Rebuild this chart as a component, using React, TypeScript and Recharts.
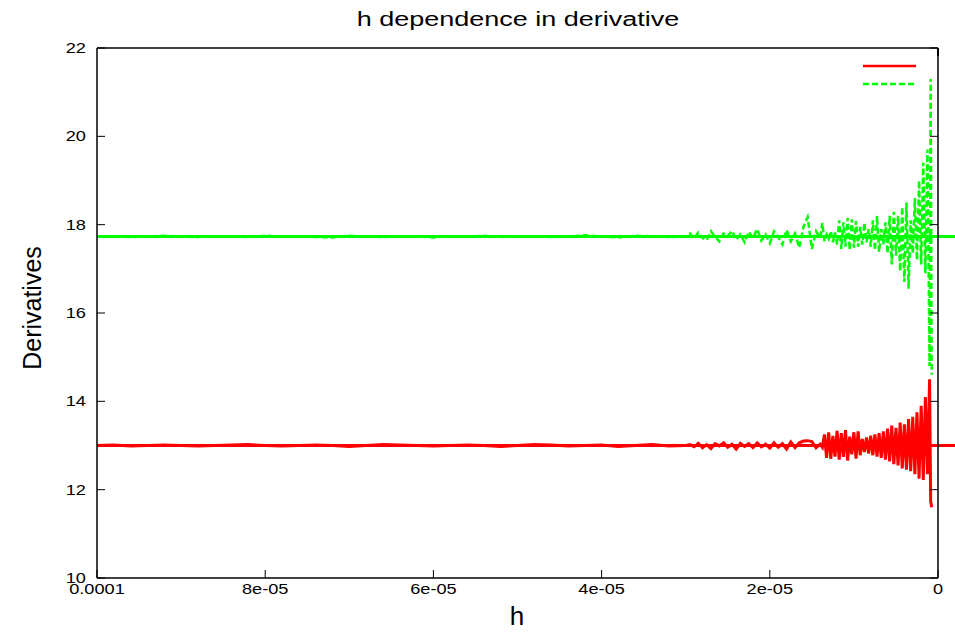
import React from 'react';
import { LineChart, Line, XAxis, YAxis, ReferenceLine, Legend } from 'recharts';

// step h, in units of 1e-6
const hMicro = [
  100, 98, 96, 94, 92, 90, 88, 86, 84, 82, 80, 78, 76, 74, 72, 70, 68, 66, 64, 62,
  60, 58, 56, 54, 52, 50, 48, 46, 44, 42, 40, 38, 36, 34, 32,
  30, 29.5, 29, 28.5, 28, 27.5, 27, 26.5, 26, 25.5, 25, 24.5, 24, 23.5, 23, 22.5,
  22, 21.5, 21, 20.5, 20, 19.5, 19, 18.5, 18, 17.5, 17, 16.5, 16, 15.5, 15, 14.5,
  14, 13.75, 13.5, 13.25, 13, 12.75, 12.5, 12.25, 12, 11.75, 11.5, 11.25, 11, 10.75,
  10.5, 10.25, 10, 9.75, 9.5, 9.25, 9, 8.75, 8.5, 8.25, 8, 7.75, 7.5, 7.25, 7, 6.75,
  6.5, 6.25, 6, 5.75, 5.5, 5.25, 5, 4.75, 4.5, 4.25, 4, 3.75, 3.5, 3.25, 3, 2.75,
  2.5, 2.25, 2, 1.75, 1.5, 1.25, 1, 0.875, 0.75,
];

// numerical derivative, first function (red)
const redValues = [
  13.00, 13.01, 12.99, 13.00, 13.01, 13.00, 12.99, 13.00, 13.01, 13.02,
  13.00, 12.99, 13.00, 13.01, 13.00, 12.98, 13.00, 13.02, 13.01, 13.00,
  12.99, 13.00, 13.01, 13.00, 12.98, 13.00, 13.02, 13.01, 12.99, 13.00,
  13.01, 12.98, 13.00, 13.02, 12.99,
  13.00, 13.02, 12.97, 13.05, 12.95, 13.02, 12.93, 13.04, 12.99, 13.06,
  12.96, 13.03, 12.92, 13.05, 12.98, 13.04, 12.95, 13.06, 12.97, 13.03,
  12.94, 13.06, 12.96, 13.04, 12.92, 13.08, 12.95, 13.06, 13.10, 13.11,
  13.09, 12.95,
  13.03, 12.96, 13.25, 12.72, 13.30, 12.70, 13.22, 12.75, 13.33, 12.68,
  13.28, 12.74, 13.35, 12.66, 13.20, 12.80, 13.30, 12.70, 13.32, 12.78,
  13.15, 12.85, 13.18, 12.82, 13.22, 12.78, 13.25, 12.75, 13.28, 12.72,
  13.32, 12.68, 13.38, 12.64, 13.45, 12.58, 13.40, 12.55, 13.52, 12.48,
  13.48, 12.45, 13.60, 12.42, 13.65, 12.35, 13.75, 12.25, 13.90, 12.22,
  14.10, 12.35, 14.50, 11.75, 11.60,
];

// numerical derivative, second function (green)
const greenValues = [
  17.73, 17.74, 17.72, 17.73, 17.75, 17.73, 17.72, 17.74, 17.73, 17.72,
  17.75, 17.73, 17.74, 17.72, 17.71, 17.75, 17.73, 17.72, 17.74, 17.73,
  17.71, 17.74, 17.73, 17.75, 17.72, 17.73, 17.74, 17.72, 17.73, 17.76,
  17.73, 17.71, 17.75, 17.74, 17.72,
  17.73, 17.80, 17.68, 17.82, 17.70, 17.65, 17.85, 17.72, 17.62, 17.80,
  17.74, 17.86, 17.66, 17.78, 17.60, 17.84, 17.70, 17.90, 17.64, 17.78,
  17.58, 17.85, 17.72, 17.55, 17.88, 17.62, 17.80, 17.48, 17.95, 18.17,
  17.45, 17.85,
  17.70, 18.04, 17.62, 17.78, 17.68, 17.85, 17.60, 17.82, 17.55, 18.10,
  17.45, 18.05, 17.50, 18.15, 17.43, 18.12, 17.48, 18.08, 17.50, 17.95,
  17.55, 18.04, 17.60, 17.90, 17.50, 18.10, 17.42, 18.20, 17.38, 17.90,
  17.55, 18.05, 17.35, 18.20, 17.10, 18.29, 17.30, 18.20, 16.95, 18.40,
  16.70, 18.50, 16.55, 18.10, 17.35, 18.60, 17.20, 19.00, 17.10, 19.40,
  16.90, 19.70, 14.80, 21.30, 14.60,
];

// exact derivatives
const exactRed = 13.0;
const exactGreen = 17.73;
const exactFromH = 0.0001;
const exactToH = -0.0000021;

const xTicks = [0.0001, 0.00008, 0.00006, 0.00004, 0.00002, 0];
const xTickLabels = ['0.0001', '8e-05', '6e-05', '4e-05', '2e-05', '0'];
const yTicks = [10, 12, 14, 16, 18, 20, 22];

const FONT = '"Liberation Sans", Arial, Helvetica, sans-serif';
const RED = '#ff0000';
const GREEN = '#00ff00';
const legendOrder = ['red', 'green'];
const dashes: { [k: string]: string | undefined } = { red: undefined, green: '6 3' };

const data = hMicro.map((h, i) => ({ h: h * 1e-6, red: redValues[i], green: greenValues[i] }));

// gnuplot style: tick marks point into the plot
function BottomTick(props: any) {
  const { x, y, payload } = props;
  const i = xTicks.findIndex(t => Math.abs(t - payload.value) < 1e-12);
  return (
    <g transform={`translate(${x},${y})`}>
      <line x1={0} y1={0} x2={0} y2={-8} stroke="#000" />
      <text y={6} textAnchor="middle" dy="0.71em" fontSize={14} fontFamily={FONT} fill="#000" transform="scale(1.3,1)">
        {xTickLabels[i]}
      </text>
    </g>
  );
}

function LeftTick(props: any) {
  const { x, y, payload } = props;
  return (
    <g transform={`translate(${x},${y})`}>
      <line x1={0} y1={0} x2={8} y2={0} stroke="#000" />
      <text x={-8.5} textAnchor="end" dy="0.355em" fontSize={14} fontFamily={FONT} fill="#000" transform="scale(1.3,1)">
        {payload.value}
      </text>
    </g>
  );
}

function TopTick(props: any) {
  const { x, y } = props;
  return <line x1={x} y1={y} x2={x} y2={y + 8} stroke="#000" />;
}

function RightTick(props: any) {
  const { x, y } = props;
  return <line x1={x} y1={y} x2={x - 8} y2={y} stroke="#000" />;
}

const renderLegend = (props: any) => {
  const payload = [...(props.payload || [])].sort(
    (a: any, b: any) => legendOrder.indexOf(a.dataKey) - legendOrder.indexOf(b.dataKey));
  return (
    <div>
      {payload.map((entry: any) => (
        <svg key={entry.dataKey} width={56} height={18} style={{ display: 'block' }}>
          <line x1={3} y1={9} x2={56} y2={9} stroke={entry.color} strokeWidth={2.5}
            strokeDasharray={dashes[entry.dataKey]} />
        </svg>
      ))}
    </div>
  );
};

export default function App() {
  return (
    <div style={{ position: 'absolute', left: 0, top: 0, width: 955, height: 632, background: '#fff', fontFamily: FONT }}>
      <LineChart width={955} height={632} data={data} margin={{ top: 38, right: 7, bottom: 0, left: 0 }}>
        <XAxis xAxisId="h" dataKey="h" type="number" domain={[0, 0.0001]} reversed allowDataOverflow
          ticks={xTicks} interval={0} height={54} tick={BottomTick} tickLine={false} tickSize={0} tickMargin={0}
          stroke="#000" axisLine={{ strokeWidth: 1.5 }} />
        <XAxis xAxisId="top" orientation="top" type="number" domain={[0, 0.0001]} reversed allowDataOverflow
          ticks={xTicks} interval={0} height={10} tick={TopTick} tickLine={false} tickSize={0} tickMargin={0}
          stroke="#000" axisLine={{ strokeWidth: 1.5 }} />
        <YAxis yAxisId="v" type="number" domain={[10, 22]} allowDataOverflow ticks={yTicks} interval={0}
          width={97} tick={LeftTick} tickLine={false} tickSize={0} tickMargin={0}
          stroke="#000" axisLine={{ strokeWidth: 1.5 }} />
        <YAxis yAxisId="right" orientation="right" type="number" domain={[10, 22]} allowDataOverflow ticks={yTicks}
          interval={0} width={10} tick={RightTick} tickLine={false} tickSize={0} tickMargin={0}
          stroke="#000" axisLine={{ strokeWidth: 1.5 }} />
        <ReferenceLine xAxisId="h" yAxisId="v" ifOverflow="visible" stroke={RED} strokeWidth={3}
          segment={[{ x: exactFromH, y: exactRed }, { x: exactToH, y: exactRed }]} />
        <ReferenceLine xAxisId="h" yAxisId="v" ifOverflow="visible" stroke={GREEN} strokeWidth={3}
          segment={[{ x: exactFromH, y: exactGreen }, { x: exactToH, y: exactGreen }]} />
        <Line xAxisId="h" yAxisId="v" type="linear" dataKey="red" stroke={RED} strokeWidth={3}
          dot={false} isAnimationActive={false} />
        <Line xAxisId="h" yAxisId="v" type="linear" dataKey="green" stroke={GREEN} strokeWidth={2.5}
          strokeDasharray={dashes.green} dot={false} isAnimationActive={false} />
        <Legend content={renderLegend} layout="horizontal" verticalAlign="middle" align="center"
          wrapperStyle={{ position: 'absolute', left: 860, top: 57, width: 60, height: 36 }} />
      </LineChart>
      <div style={{ position: 'absolute', left: 268, top: 9, width: 500, textAlign: 'center', fontSize: 20, lineHeight: '20px', transform: 'scaleX(1.35)' }}>
        h dependence in derivative
      </div>
      <div style={{ position: 'absolute', left: 417, top: 603, width: 200, textAlign: 'center', fontSize: 26, lineHeight: '26px' }}>
        h
      </div>
      <div style={{ position: 'absolute', left: -68, top: 293, width: 200, height: 30, textAlign: 'center', fontSize: 25, lineHeight: '30px', transform: 'rotate(-90deg)' }}>
        Derivatives
      </div>
    </div>
  );
}
